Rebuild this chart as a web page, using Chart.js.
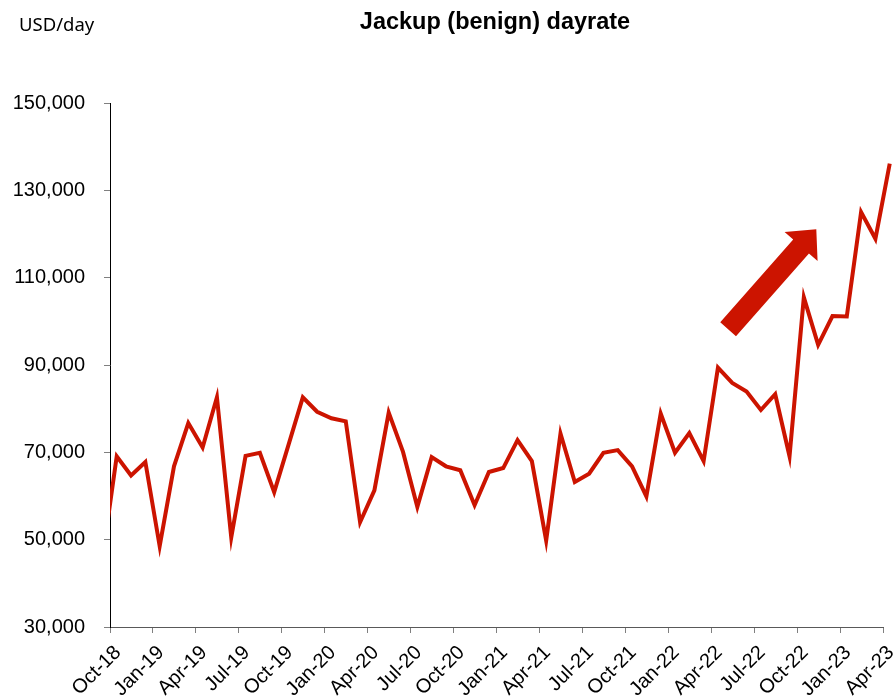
<!DOCTYPE html>
<html>
<head>
<meta charset="utf-8">
<script src="https://cdn.jsdelivr.net/npm/chart.js@4/dist/chart.umd.min.js"></script>
<style>
  html, body { margin: 0; padding: 0; background: #fff; }
  canvas { display: block; }
</style>
</head>
<body>
<canvas id="dayrate" width="896" height="697"></canvas>
<script>
// monthly series, Sep-18 sits just left of the axis and gets clipped
const months = [
  'Sep-18', 'Oct-18', 'Nov-18', 'Dec-18',
  'Jan-19', 'Feb-19', 'Mar-19', 'Apr-19', 'May-19', 'Jun-19', 'Jul-19', 'Aug-19', 'Sep-19', 'Oct-19', 'Nov-19', 'Dec-19',
  'Jan-20', 'Feb-20', 'Mar-20', 'Apr-20', 'May-20', 'Jun-20', 'Jul-20', 'Aug-20', 'Sep-20', 'Oct-20', 'Nov-20', 'Dec-20',
  'Jan-21', 'Feb-21', 'Mar-21', 'Apr-21', 'May-21', 'Jun-21', 'Jul-21', 'Aug-21', 'Sep-21', 'Oct-21', 'Nov-21', 'Dec-21',
  'Jan-22', 'Feb-22', 'Mar-22', 'Apr-22', 'May-22', 'Jun-22', 'Jul-22', 'Aug-22', 'Sep-22', 'Oct-22', 'Nov-22', 'Dec-22',
  'Jan-23', 'Feb-23', 'Mar-23', 'Apr-23'
];

const dayrate = [
  45700, 69100, 64700, 67800,
  48500, 66800, 76700, 71100, 82600, 50500, 69200, 69900, 60900, 71700, 82600, 79300,
  77800, 77100, 54000, 61300, 79100, 70100, 57500, 68900, 66800, 65900, 57900, 65500,
  66400, 72800, 68000, 49800, 74300, 63200, 65100, 69900, 70500, 66800, 59900, 78900,
  69900, 74400, 68000, 89400, 85900, 83900, 79700, 83300, 69100, 105500, 94600, 101200,
  101100, 125000, 118900, 136100
];

const yTicks = [30000, 50000, 70000, 90000, 110000, 130000, 150000];

// trend arrow, in axis units (month offset from Oct-18, USD/day)
const arrowFrom = { x: 43.18, y: 98200 };
const arrowTo = { x: 49.34, y: 121100 };

const RED = '#cc1400';
const FONT = "'Liberation Sans', Arial, sans-serif";

// points sit mid-month, the axis starts at Oct-18
const MID = 0.47;
const points = dayrate.map((v, i) => ({ x: i - 1 + MID, y: v }));

const overlay = {
  id: 'overlay',
  afterDatasetsDraw(chart) {
    const { ctx, scales: { x, y } } = chart;
    const x0 = x.getPixelForValue(arrowFrom.x), y0 = y.getPixelForValue(arrowFrom.y);
    const x1 = x.getPixelForValue(arrowTo.x), y1 = y.getPixelForValue(arrowTo.y);
    const len = Math.hypot(x1 - x0, y1 - y0);
    const ux = (x1 - x0) / len, uy = (y1 - y0) / len;
    const px = -uy, py = ux;
    const shaft = 10.5, head = 22, headLen = 23;
    const bx = x1 - ux * headLen, by = y1 - uy * headLen;

    ctx.save();
    ctx.fillStyle = RED;
    ctx.beginPath();
    ctx.moveTo(x0 + px * shaft, y0 + py * shaft);
    ctx.lineTo(bx + px * shaft, by + py * shaft);
    ctx.lineTo(bx + px * head, by + py * head);
    ctx.lineTo(x1, y1);
    ctx.lineTo(bx - px * head, by - py * head);
    ctx.lineTo(bx - px * shaft, by - py * shaft);
    ctx.lineTo(x0 - px * shaft, y0 - py * shaft);
    ctx.closePath();
    ctx.fill();
    ctx.restore();
  },
  afterDraw(chart) {
    const { ctx } = chart;
    ctx.save();
    ctx.fillStyle = '#000';
    ctx.textBaseline = 'alphabetic';
    ctx.font = "bold 23.5px " + FONT;
    ctx.textAlign = 'center';
    ctx.fillText('Jackup (benign) dayrate', 495, 29);
    ctx.font = "18.5px 'Noto Sans', sans-serif";
    ctx.textAlign = 'left';
    ctx.fillText('USD/day', 19, 31);
    ctx.restore();
  }
};

new Chart(document.getElementById('dayrate'), {
  type: 'line',
  data: {
    datasets: [{
      data: points,
      borderColor: RED,
      borderWidth: 4,
      pointRadius: 0,
      tension: 0,
      fill: false,
      clip: { left: 0, top: false, right: false, bottom: 0 }
    }]
  },
  options: {
    responsive: false,
    animation: false,
    layout: { padding: { top: 103, right: 13, left: 0, bottom: 0 } },
    plugins: {
      legend: { display: false },
      tooltip: { enabled: false },
      title: { display: false }
    },
    scales: {
      x: {
        type: 'linear',
        min: 0,
        max: 54,
        afterFit(scale) {
          scale.height = 70;
          scale.paddingLeft = 0;
          scale.paddingRight = 0;
        },
        border: { display: true, color: '#595959', width: 1 },
        grid: { drawOnChartArea: false, drawTicks: true, tickLength: 6, tickColor: '#808080' },
        ticks: {
          stepSize: 3,
          autoSkip: false,
          minRotation: 45,
          maxRotation: 45,
          padding: 8,
          labelOffset: 8,
          color: '#000',
          font: { family: FONT, size: 20 },
          callback: (v) => months[v + 1] || ''
        }
      },
      y: {
        min: 30000,
        max: 150000,
        afterFit(scale) { scale.width = 110; },
        afterBuildTicks(scale) { scale.ticks = yTicks.map(v => ({ value: v })); },
        border: { display: true, color: '#000', width: 1 },
        grid: { drawOnChartArea: false, drawTicks: true, tickLength: 6, tickColor: '#808080' },
        ticks: {
          padding: 19,
          color: '#000',
          font: { family: FONT, size: 20 },
          callback: (v) => v.toLocaleString('en-US')
        }
      }
    }
  },
  plugins: [overlay]
});
</script>
</body>
</html>
